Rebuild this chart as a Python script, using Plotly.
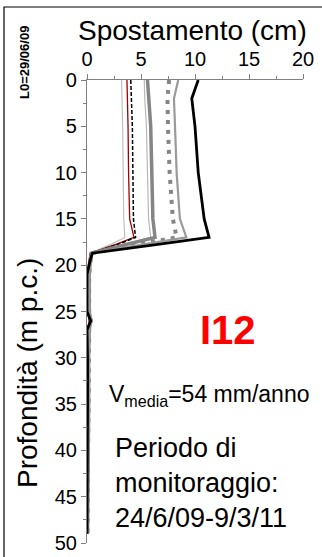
import plotly.graph_objects as go

# Depth (m) at which displacements were read
depth = [0, 2, 5, 10, 15, 17, 17.7, 18.7, 19.7, 21, 25, 26, 27, 30, 35, 40, 45, 49]

# Displacement series (cm)
s_light1 = [3.2, 3.25, 3.3, 3.35, 3.4, 3.5, 2.3, 0.3, 0.2, 0.1, 0.1, 0.2, 0.1, 0.1, 0.1, 0.1, 0.1, 0.05]
s_red = [3.7, 3.75, 3.8, 3.85, 3.95, 4.35, 2.8, 0.3, 0.15, 0.05, 0.05, 0.2, 0.05, 0.05, 0.05, 0.05, 0.05, 0.0]
s_dash = [4.05, 4.1, 4.2, 4.25, 4.3, 4.5, 3.0, 0.35, 0.2, 0.05, 0.05, 0.25, 0.05, 0.05, 0.05, 0.05, 0.05, 0.0]
s_light2 = [5.3, 5.35, 5.5, 5.6, 5.7, 5.9, 3.5, 0.4, 0.25, 0.15, 0.15, 0.3, 0.15, 0.1, 0.1, 0.1, 0.1, 0.05]
s_thick = [5.6, 5.7, 5.9, 6.0, 6.1, 6.3, 3.8, 0.4, 0.3, 0.2, 0.2, 0.35, 0.2, 0.15, 0.15, 0.1, 0.1, 0.05]
s_dot = [7.6, 7.45, 7.5, 7.65, 7.95, 8.3, 4.8, 0.45, 0.3, 0.2, 0.2, 0.35, 0.2, 0.15, 0.15, 0.1, 0.1, 0.05]
s_mid = [8.45, 8.05, 8.15, 8.3, 8.6, 9.2, 5.5, 0.5, 0.3, 0.2, 0.2, 0.4, 0.2, 0.15, 0.15, 0.1, 0.1, 0.05]
s_black = [10.3, 9.7, 10.0, 10.3, 10.85, 11.3, 6.9, 0.5, 0.25, 0.0, 0.0, 0.35, 0.0, 0.05, 0.05, 0.05, 0.03, 0.0]

x_ticks = [0, 5, 10, 15, 20]
y_ticks = [0, 5, 10, 15, 20, 25, 30, 35, 40, 45, 50]

FONT = "Liberation Sans, Arial, sans-serif"

fig = go.Figure()

series = [
    (s_light1, dict(color="#c0c0c0", width=1.2)),
    (s_light2, dict(color="#b8b8b8", width=1.2)),
    (s_red, dict(color="#a00000", width=1.3)),
    (s_dash, dict(color="black", width=1.5, dash="4px,2px")),
    (s_thick, dict(color="#858585", width=3.5)),
    (s_dot, dict(color="#858585", width=4, dash="4px,6px")),
    (s_mid, dict(color="#9a9a9a", width=2.2)),
    (s_black, dict(color="black", width=2.8)),
]
for xs, ln in series:
    fig.add_trace(go.Scatter(x=xs, y=depth, mode="lines", line=ln,
                             showlegend=False, hoverinfo="skip"))

fig.update_xaxes(range=[0, 20], side="top", tickvals=x_ticks, automargin=False,
                 ticks="outside", ticklen=5, tickcolor="#808080",
                 minor=dict(dtick=2.5, ticks="outside", ticklen=3, tickcolor="#808080"),
                 showline=True, linecolor="#808080", linewidth=1.2,
                 showgrid=False, zeroline=False,
                 tickfont=dict(family=FONT, size=20, color="black"))
fig.update_yaxes(range=[50, 0], tickvals=y_ticks, automargin=False,
                 ticks="outside", ticklen=5, tickcolor="#808080",
                 minor=dict(dtick=2.5, ticks="outside", ticklen=3, tickcolor="#808080"),
                 showline=True, linecolor="#808080", linewidth=1.2,
                 showgrid=False, zeroline=False,
                 tickfont=dict(family=FONT, size=20, color="black"))

W, H = 322, 557
ml, mr, mt, mb = 87, 19, 80, 14

def px(x):
    return (x - ml) / (W - ml - mr)

def py(y):
    return 1 - (y - mt) / (H - mt - mb)

ann = [
    dict(text="Spostamento (cm)", x=px(192), y=py(30), size=28),
    dict(text="<b>L0=29/06/09</b>", x=px(24), y=py(62), size=13, angle=-90),
    dict(text="Profondità (m p.c.)", x=px(27), y=py(373), size=28, angle=-90),
    dict(text="<b>I12</b>", x=px(228), y=py(330), size=40, color="#ff0000"),
    dict(text="V<sub>media</sub>=54 mm/anno", x=px(209), y=py(395), size=23),
]
for a in ann:
    fig.add_annotation(text=a["text"], x=a["x"], y=a["y"], xref="paper", yref="paper",
                       showarrow=False, textangle=a.get("angle", 0),
                       font=dict(family=FONT, size=a["size"], color=a.get("color", "black")),
                       xanchor="center", yanchor="middle")

fig.add_annotation(text="Periodo di<br>monitoraggio:<br>24/6/09-9/3/11",
                   x=px(113), y=py(483), xref="paper", yref="paper",
                   showarrow=False, align="left", xanchor="left", yanchor="middle",
                   font=dict(family=FONT, size=27, color="black"))

# outer chart border (only top and left visible in the crop)
fig.add_shape(type="rect", xref="paper", yref="paper",
              x0=px(4), x1=px(330), y0=py(565), y1=py(7),
              line=dict(color="black", width=1.2), layer="above")

fig.update_layout(width=W, height=H, margin=dict(l=ml, r=mr, t=mt, b=mb, autoexpand=False),
                  paper_bgcolor="white", plot_bgcolor="white",
                  font=dict(family=FONT))

fig.write_html("out.html", config={"displayModeBar": False},
               post_script="document.body.style.margin='0';document.body.style.padding='0';")
